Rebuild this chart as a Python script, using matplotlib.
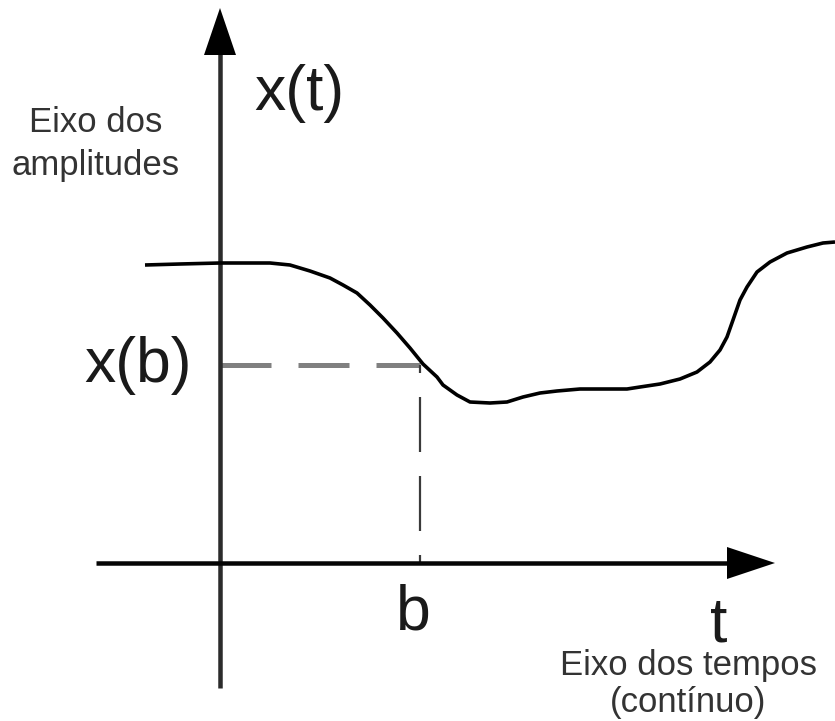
import matplotlib
matplotlib.use("Agg")
import matplotlib.pyplot as plt
from matplotlib.patches import Polygon

plt.rcParams['font.family'] = ['Liberation Sans', 'DejaVu Sans']
plt.rcParams['lines.scale_dashes'] = False

# ---- data (signal coordinates: t along time axis, amplitude upward) ----
t_vals = [-75, -40, 0, 30, 50, 70, 90, 110, 123, 137, 150, 163, 177, 190,
          203, 217, 223, 237, 250, 270, 287, 303, 320, 337, 360, 383, 407,
          420, 440, 460, 477, 490, 500, 507, 513, 520, 527, 537, 550, 567,
          587, 603, 615]
x_vals = [298, 299, 300, 300, 300, 298, 292, 285, 278, 270, 258, 245, 230, 215,
          199, 186, 178, 168, 161, 160, 161, 166, 170, 172, 174, 174, 174,
          176, 179, 184, 191, 201, 213, 226, 243, 263, 276, 291, 301, 310,
          316, 320, 321]
b_t = 200
b_x = 198

label_xt = "x(t)"
label_xb = "x(b)"
label_b = "b"
label_t = "t"
amp_axis_lines = ["Eixo dos", "amplitudes"]
time_axis_lines = ["Eixo dos tempos", "(contínuo)"]

# ---- figure ----
fig = plt.figure(figsize=(8.35, 7.21), dpi=100)
ax = fig.add_axes([0, 0, 1, 1])
ax.set_xlim(-220, 615)
ax.set_ylim(-158, 563)
ax.axis('off')

PX = 72 / 100  # points per pixel

# dashed guides
ax.plot([0, b_t], [b_x, b_x], color='#808080', lw=5 * PX,
        ls=(0, (51 * PX, 27 * PX)), dash_capstyle='butt', zorder=2)
ax.plot([b_t, b_t], [0, b_x], color='#3a3a3a', lw=2.2 * PX,
        ls=(47 * PX, (55 * PX, 24 * PX)), dash_capstyle='butt', zorder=2)

# axes lines
ax.plot([0, 0], [-125, 510], color='#2b2b2b', lw=4.5 * PX,
        solid_capstyle='butt', zorder=3)
ax.plot([-124, 509], [0, 0], color='#050505', lw=4.5 * PX,
        solid_capstyle='butt', zorder=3)
ax.add_patch(Polygon([[-16, 508], [16, 508], [0, 555]], closed=True,
                     color='#000000', zorder=4, lw=0))
ax.add_patch(Polygon([[507, -16], [507, 16], [555, 0]], closed=True,
                     color='#000000', zorder=4, lw=0))

# curve
ax.plot(t_vals, x_vals, color='#000000', lw=3.6 * PX,
        solid_joinstyle='round', solid_capstyle='butt', zorder=5)

# ---- texts ----
big = 45
small = 25
ax.text(79, 563 - 110, label_xt, fontsize=big, ha='center', va='baseline',
        color='#1a1a1a')
ax.text(-81.5, 563 - 382, label_xb, fontsize=big, ha='center', va='baseline',
        color='#1a1a1a')
ax.text(193, 563 - 630, label_b, fontsize=big, ha='center', va='baseline',
        color='#1a1a1a')
ax.text(499, 563 - 641, label_t, fontsize=big, ha='center', va='baseline',
        color='#1a1a1a')

ax.text(-124, 563 - 132, amp_axis_lines[0], fontsize=small, ha='center',
        va='baseline', color='#333333')
ax.text(-124, 563 - 175, amp_axis_lines[1], fontsize=small, ha='center',
        va='baseline', color='#333333')
ax.text(468, 563 - 675, time_axis_lines[0], fontsize=small, ha='center',
        va='baseline', color='#333333')
ax.text(468, 563 - 712, time_axis_lines[1], fontsize=small, ha='center',
        va='baseline', color='#333333')

fig.savefig("out.png", dpi=100)
